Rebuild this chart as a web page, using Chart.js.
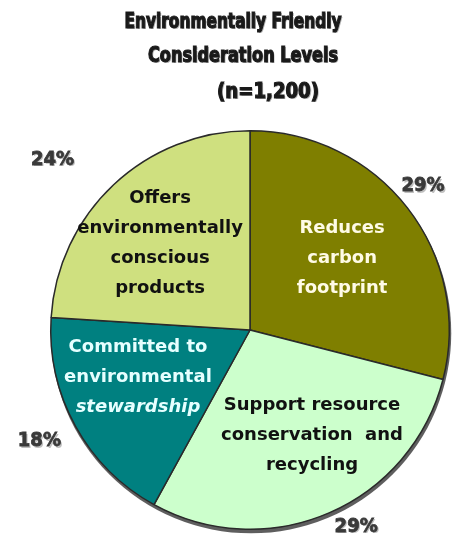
<!DOCTYPE html>
<html>
<head>
<meta charset="utf-8">
<script src="https://cdn.jsdelivr.net/npm/chart.js@4/dist/chart.umd.min.js"></script>
<style>
  html, body { margin: 0; padding: 0; background: #ffffff; }
  #wrap { width: 467px; height: 548px; position: relative; }
</style>
</head>
<body>
<div id="wrap"><canvas id="c" width="467" height="548"></canvas></div>
<script>
// ---- data ----
const titleLines = ["Environmentally Friendly", "Consideration Levels", "(n=1,200)"];
const categories = [
  ["Reduces", "carbon", "footprint"],
  ["Support resource", "conservation  and", "recycling"],
  ["Committed to", "environmental", "stewardship"],
  ["Offers", "environmentally", "conscious", "products"]
];
const shares = [29, 29, 18, 24];
const sliceColors = ["#7f7f00", "#ccffcc", "#008080", "#cfe07f"];
const labelColors = ["#fffbe6", "#111111", "#e6ffff", "#111111"];

// label placement (radius fraction of pie radius, angle shift in degrees)
const innerPlace = [[0.585, 0], [0.615, -7], [0.61, 6], [0.625, -3]];
const outerPlace = [[1.13, -2], [1.12, -5], [1.195, 1], [1.31, -6]];
const italicLines = { 2: [2] };

const labelPlugin = {
  id: 'pieLabels',
  beforeDatasetsDraw(chart) {
    const meta = chart.getDatasetMeta(0);
    const a = meta.data[0];
    if (!a) return;
    const ctx = chart.ctx;
    ctx.save();
    ctx.fillStyle = 'rgba(40,40,40,0.75)';
    ctx.beginPath();
    ctx.arc(a.x + 1, a.y + 3, a.outerRadius + 1, 0, Math.PI * 2);
    ctx.fill();
    ctx.restore();
  },
  afterDatasetsDraw(chart) {
    const ctx = chart.ctx;
    const meta = chart.getDatasetMeta(0);
    ctx.save();
    ctx.textAlign = 'center';
    ctx.textBaseline = 'middle';
    meta.data.forEach((arc, i) => {
      const mid = (arc.startAngle + arc.endAngle) / 2;
      const r = arc.outerRadius;
      // inner label
      const [fi, di] = innerPlace[i];
      const ai = mid + di * Math.PI / 180;
      const cx = arc.x + Math.cos(ai) * r * fi;
      const cy = arc.y + Math.sin(ai) * r * fi;
      const lines = categories[i];
      const lh = 30;
      const y0 = cy - (lines.length - 1) * lh / 2;
      lines.forEach((t, k) => {
        const ital = (italicLines[i] || []).includes(k);
        ctx.font = (ital ? 'italic ' : '') + 'bold 18px "DejaVu Sans", sans-serif';
        ctx.fillStyle = labelColors[i];
        ctx.fillText(t, cx, y0 + k * lh);
      });
      // outer percentage
      const [fo, dd] = outerPlace[i];
      const ao = mid + dd * Math.PI / 180;
      const ox = arc.x + Math.cos(ao) * r * fo;
      const oy = arc.y + Math.sin(ao) * r * fo;
      ctx.font = 'bold 20px "DejaVu Sans Condensed", "DejaVu Sans", sans-serif';
      ctx.fillStyle = 'rgba(0,0,0,0.25)';
      ctx.fillText(shares[i] + '%', ox + 1.5, oy + 1.5);
      ctx.fillStyle = '#3a3a3a';
      ctx.strokeStyle = '#3a3a3a';
      ctx.lineWidth = 0.8;
      ctx.fillText(shares[i] + '%', ox, oy);
      ctx.strokeText(shares[i] + '%', ox, oy);
    });
    ctx.restore();
  },
  afterDraw(chart) {
    const ctx = chart.ctx;
    ctx.save();
    ctx.textAlign = 'center';
    ctx.textBaseline = 'middle';
    ctx.font = 'bold 22px "DejaVu Sans Condensed", "DejaVu Sans", sans-serif';
    const centers = [[233, 22, 217], [243, 56, 190], [268, 92, 102]];
    titleLines.forEach((t, k) => {
      const [x, y, w] = centers[k];
      const mw = ctx.measureText(t).width;
      const s = Math.min(1, w / mw);
      ctx.save();
      ctx.translate(x, y);
      ctx.scale(s, 1);
      ctx.fillStyle = 'rgba(0,0,0,0.3)';
      ctx.fillText(t, 1.5, 1.5);
      ctx.fillStyle = '#1a1a1a';
      ctx.strokeStyle = '#1a1a1a';
      ctx.lineWidth = 1.2;
      ctx.fillText(t, 0, 0);
      ctx.strokeText(t, 0, 0);
      ctx.restore();
    });
    ctx.restore();
  }
};

new Chart(document.getElementById('c'), {
  type: 'pie',
  data: {
    labels: categories,
    datasets: [{
      data: shares,
      backgroundColor: sliceColors,
      borderColor: '#2a2a2a',
      borderWidth: 1.5
    }]
  },
  options: {
    responsive: false,
    animation: false,
    layout: { padding: { left: 50, right: 17, top: 130, bottom: 18 } },
    plugins: {
      legend: { display: false },
      tooltip: { enabled: false },
      title: { display: false }
    }
  },
  plugins: [labelPlugin]
});
</script>
</body>
</html>
